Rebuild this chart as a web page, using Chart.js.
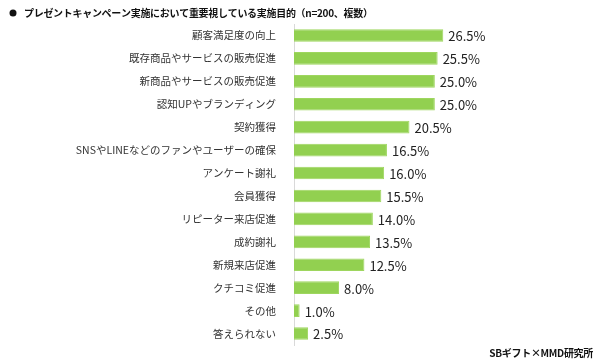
<!DOCTYPE html>
<html lang="ja">
<head>
<meta charset="utf-8">
<script src="https://cdn.jsdelivr.net/npm/chart.js@4"></script>
<style>
  html, body { margin: 0; padding: 0; background: #fff; }
  #wrap { width: 600px; height: 363px; position: relative; }
</style>
</head>
<body>
<div id="wrap"><canvas id="chart"></canvas></div>
<script>
const categories = [
  "顧客満足度の向上",
  "既存商品やサービスの販売促進",
  "新商品やサービスの販売促進",
  "認知UPやブランディング",
  "契約獲得",
  "SNSやLINEなどのファンやユーザーの確保",
  "アンケート謝礼",
  "会員獲得",
  "リピーター来店促進",
  "成約謝礼",
  "新規来店促進",
  "クチコミ促進",
  "その他",
  "答えられない"
];
const values = [26.5, 25.5, 25.0, 25.0, 20.5, 16.5, 16.0, 15.5, 14.0, 13.5, 12.5, 8.0, 1.0, 2.5];

const titleText = "プレゼントキャンペーン実施において重要視している実施目的（n=200、複数）";
const sourceText = "SBギフト×MMD研究所";

const FONT = "'Noto Sans CJK JP', 'Noto Sans', sans-serif";

// value labels + title + source
const extras = {
  id: "extras",
  afterDatasetsDraw(chart) {
    const ctx = chart.ctx;
    const meta = chart.getDatasetMeta(0);
    ctx.save();
    ctx.fillStyle = "#222";
    ctx.font = "13px " + FONT;
    ctx.textAlign = "left";
    ctx.textBaseline = "middle";
    meta.data.forEach((bar, i) => {
      ctx.fillText(values[i].toFixed(1) + "%", bar.x + 5, bar.y + 1);
    });
    ctx.fillStyle = "#111";
    ctx.beginPath();
    ctx.arc(13, 13, 3.5, 0, Math.PI * 2);
    ctx.fill();
    ctx.font = "bold 10px " + FONT;
    ctx.letterSpacing = "-0.3px";
    ctx.fillText(titleText, 24, 13);
    ctx.textAlign = "right";
    ctx.fillText(sourceText, 593, 353);
    ctx.restore();
  }
};

new Chart(document.getElementById("chart"), {
  type: "bar",
  data: {
    labels: categories,
    datasets: [{
      data: values,
      backgroundColor: "#92d050",
      borderColor: "#9ed65f",
      borderWidth: 1,
      barPercentage: 0.55,
      categoryPercentage: 1.0
    }]
  },
  options: {
    indexAxis: "y",
    responsive: true,
    maintainAspectRatio: false,
    animation: false,
    layout: { padding: { left: 0, right: 137, top: 24, bottom: 18 } },
    plugins: {
      legend: { display: false },
      tooltip: { enabled: false }
    },
    scales: {
      x: {
        display: false,
        min: 0,
        max: 30
      },
      y: {
        afterFit(scale) { scale.width = 294; },
        grid: { display: false },
        border: { display: true, color: "#d9d9d9", width: 1 },
        ticks: {
          color: "#333",
          padding: 10,
          font: { family: FONT, size: 10.5 }
        }
      }
    }
  },
  plugins: [extras]
});
</script>
</body>
</html>
